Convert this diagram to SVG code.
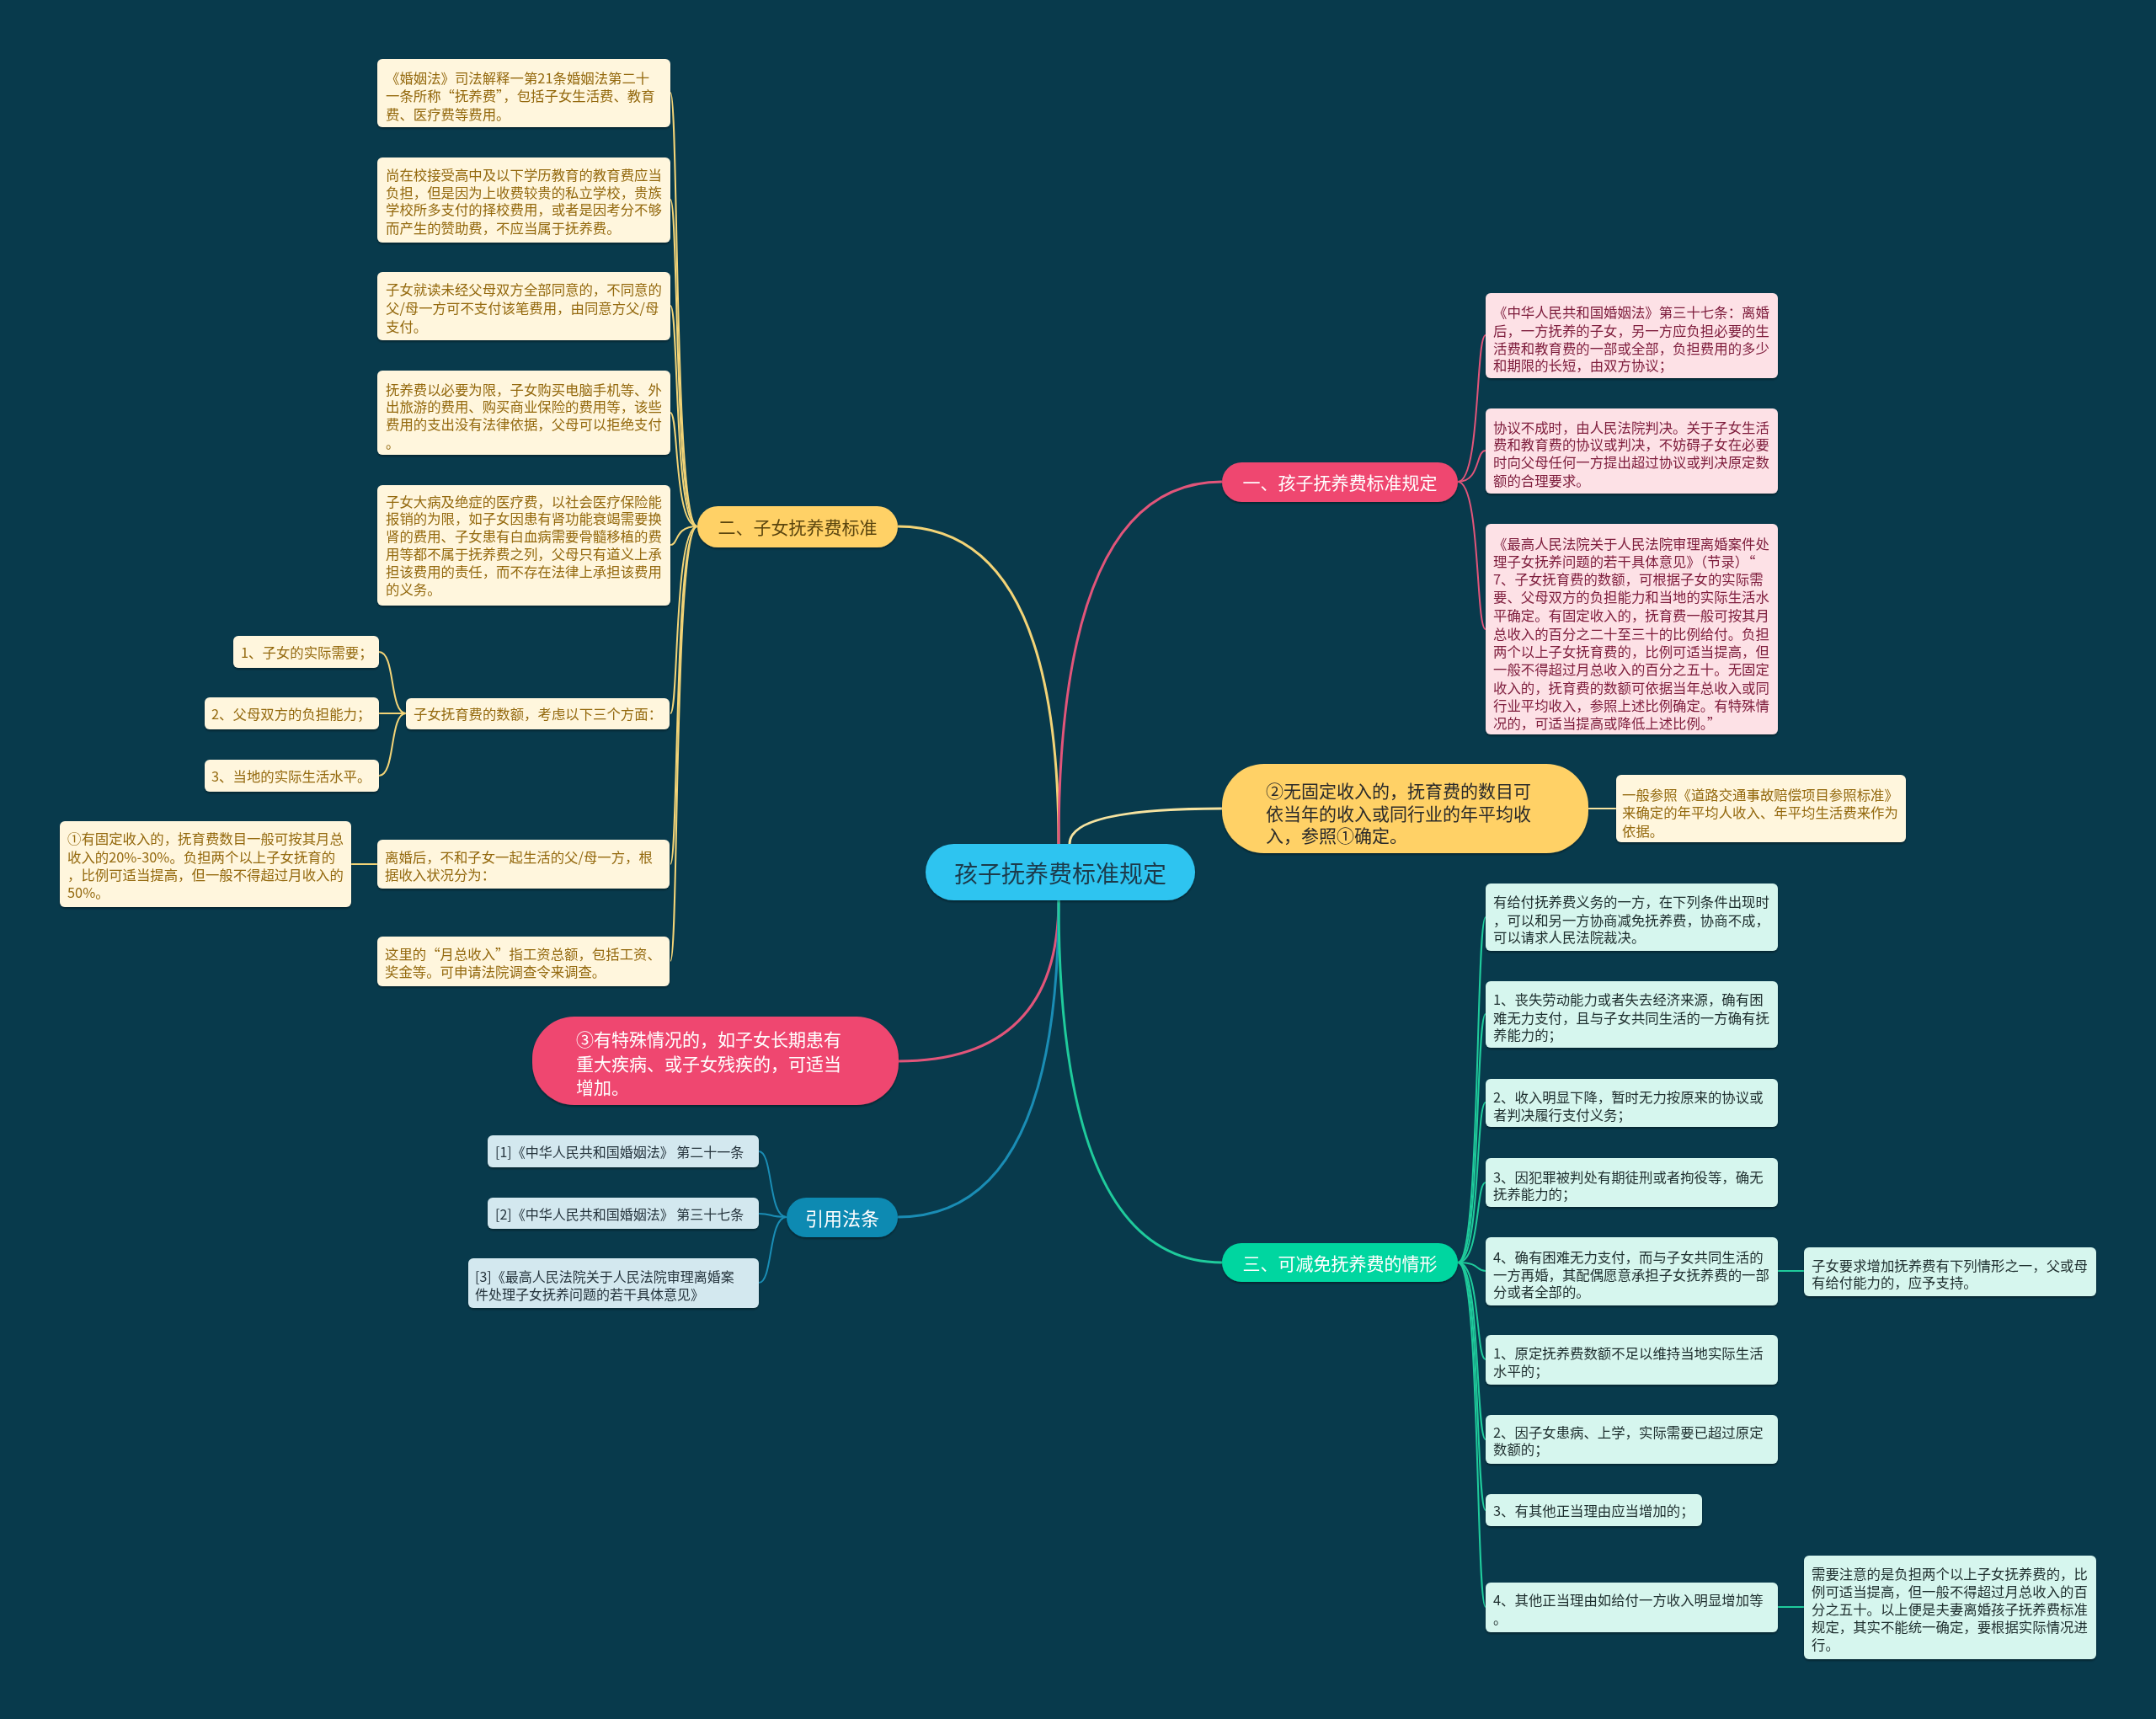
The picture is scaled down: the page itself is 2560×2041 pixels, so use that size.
<svg xmlns="http://www.w3.org/2000/svg" width="2560" height="2041" viewBox="0 0 2560 2041">
<defs>
<filter id="sh" x="-5%" y="-10%" width="110%" height="130%"><feDropShadow dx="0" dy="2" stdDeviation="1.2" flood-color="#000" flood-opacity="0.35"/></filter>
<style>
text{font-family:"Noto Sans CJK SC","Noto Sans",sans-serif;dominant-baseline:central}
.y rect{fill:#FFF6DD}.y text{fill:#94690F;font-size:16.4px}
.p rect{fill:#FDE1E6}.p text{fill:#7D1B3B;font-size:16.4px}
.g rect{fill:#D6F6EE}.g text{fill:#1F2D2D;font-size:16.4px}
.b rect{fill:#D3E8EF}.b text{fill:#25343D;font-size:16px}
.big text{font-size:21px}
.cy{fill:none;stroke:#F3D477;stroke-width:2}
.cp{fill:none;stroke:#E2557A;stroke-width:2}
.cg{fill:none;stroke:#1FCB9C;stroke-width:2}
.cb{fill:none;stroke:#1A8DB5;stroke-width:2}
.m{stroke-width:3}
</style>
</defs>
<rect width="2560" height="2041" fill="#083A4C"/>

<g id="connectors">
<path class="cy m" d="M1257,1002 Q1257,625 1066,625"/>
<path class="cp m" d="M1257,1002 Q1257,572 1451,572"/>
<path class="cy m" style="stroke:#F6E3A0" d="M1270,1002 Q1270,960 1451,960"/>
<path class="cp m" d="M1257,1069 Q1257,1260 1066,1260"/>
<path class="cb m" d="M1257,1069 Q1257,1445 1066,1445"/>
<path class="cg m" d="M1257,1069 Q1257,1499 1451,1499"/>

<path class="cy" d="M828,625 C800,625 806,110 796,110"/>
<path class="cy" d="M828,625 C800,625 806,237 796,237"/>
<path class="cy" d="M828,625 C800,625 806,363 796,363"/>
<path class="cy" d="M828,625 C800,625 806,490 796,490"/>
<path class="cy" d="M828,625 C800,625 806,647 796,647"/>
<path class="cy" d="M828,625 C800,625 806,847 796,847"/>
<path class="cy" d="M828,625 C800,625 806,1026 796,1026"/>
<path class="cy" d="M828,625 C800,625 806,1141 796,1141"/>
<path class="cy" d="M482,847 C462,847 470,774 450,774"/>
<path class="cy" d="M482,847 L450,847"/>
<path class="cy" d="M482,847 C462,847 470,921 450,921"/>
<path class="cy" d="M448,1026 L417,1026"/>
<path class="cy" style="stroke:#F6E3A0" d="M1886,960 L1919,960"/>

<path class="cp" d="M1731,572 C1758,572 1752,398 1764,398"/>
<path class="cp" d="M1731,572 C1758,572 1752,535 1764,535"/>
<path class="cp" d="M1731,572 C1758,572 1752,747 1764,747"/>

<path class="cb" d="M934,1445 C912,1445 918,1367 901,1367"/>
<path class="cb" d="M934,1445 C912,1445 918,1441 901,1441"/>
<path class="cb" d="M934,1445 C912,1445 918,1523 901,1523"/>

<path class="cg" d="M1731,1499 C1758,1499 1752,1089 1764,1089"/>
<path class="cg" d="M1731,1499 C1758,1499 1752,1204 1764,1204"/>
<path class="cg" d="M1731,1499 C1758,1499 1752,1309 1764,1309"/>
<path class="cg" d="M1731,1499 C1758,1499 1752,1404 1764,1404"/>
<path class="cg" d="M1731,1499 C1758,1499 1752,1509 1764,1509"/>
<path class="cg" d="M1731,1499 C1758,1499 1752,1614 1764,1614"/>
<path class="cg" d="M1731,1499 C1758,1499 1752,1709 1764,1709"/>
<path class="cg" d="M1731,1499 C1758,1499 1752,1793 1764,1793"/>
<path class="cg" d="M1731,1499 C1758,1499 1752,1908 1764,1908"/>
<path class="cg" d="M2111,1509 L2142,1509"/>
<path class="cg" d="M2111,1908 L2142,1908"/>
</g>

<g id="center" filter="url(#sh)">
<rect x="1099" y="1002" width="320" height="67" rx="33.5" fill="#2EC4F0"/>
<text x="1259" y="1036" text-anchor="middle" style="font-size:28px;fill:#1D3A4C">孩子抚养费标准规定</text>
</g>

<g id="b2" filter="url(#sh)">
<rect x="828" y="601" width="238" height="49" rx="24.5" fill="#FFD166"/>
<text x="947" y="625" text-anchor="middle" style="font-size:21px;fill:#5A4410">二、子女抚养费标准</text>
</g>
<g id="b1" filter="url(#sh)">
<rect x="1451" y="549" width="280" height="47" rx="23.5" fill="#EF476F"/>
<text x="1591" y="572" text-anchor="middle" style="font-size:21px;fill:#FFFFFF">一、孩子抚养费标准规定</text>
</g>
<g id="b3" filter="url(#sh)">
<rect x="1451" y="1476" width="280" height="46" rx="23" fill="#06D6A0"/>
<text x="1591" y="1499" text-anchor="middle" style="font-size:21px;fill:#FFFFFF">三、可减免抚养费的情形</text>
</g>
<g id="bcite" filter="url(#sh)">
<rect x="934" y="1422" width="132" height="47" rx="23.5" fill="#118AB2"/>
<text x="1000" y="1445" text-anchor="middle" style="font-size:22px;fill:#FFFFFF">引用法条</text>
</g>

<g id="n2" filter="url(#sh)">
<rect x="1451" y="907" width="435" height="106" rx="50" fill="#FFD166"/>
<text x="1503" style="font-size:21px;fill:#2A2A2A"><tspan x="1503" y="938">②无固定收入的，抚育费的数目可</tspan><tspan x="1503" y="965">依当年的收入或同行业的年平均收</tspan><tspan x="1503" y="991">入，参照①确定。</tspan></text>
</g>
<g id="n3" filter="url(#sh)">
<rect x="632" y="1207" width="435" height="105" rx="50" fill="#EF476F"/>
<text style="font-size:21px;fill:#FFFFFF"><tspan x="684" y="1233">③有特殊情况的，如子女长期患有</tspan><tspan x="684" y="1262">重大疾病、或子女残疾的，可适当</tspan><tspan x="684" y="1290">增加。</tspan></text>
</g>

<g id="y1" class="y" filter="url(#sh)"><rect x="448" y="70" width="348" height="81" rx="6"/>
<text><tspan x="458" y="92">《婚姻法》司法解释一第21条婚姻法第二十</tspan><tspan x="458" y="113">一条所称“抚养费”，包括子女生活费、教育</tspan><tspan x="458" y="135">费、医疗费等费用。</tspan></text></g>
<g id="y2" class="y" filter="url(#sh)"><rect x="448" y="187" width="348" height="101" rx="6"/>
<text><tspan x="458" y="207">尚在校接受高中及以下学历教育的教育费应当</tspan><tspan x="458" y="228">负担，但是因为上收费较贵的私立学校，贵族</tspan><tspan x="458" y="248">学校所多支付的择校费用，或者是因考分不够</tspan><tspan x="458" y="270">而产生的赞助费，不应当属于抚养费。</tspan></text></g>
<g id="y3" class="y" filter="url(#sh)"><rect x="448" y="323" width="348" height="81" rx="6"/>
<text><tspan x="458" y="343">子女就读未经父母双方全部同意的，不同意的</tspan><tspan x="458" y="365">父/母一方可不支付该笔费用，由同意方父/母</tspan><tspan x="458" y="387">支付。</tspan></text></g>
<g id="y4" class="y" filter="url(#sh)"><rect x="448" y="440" width="348" height="100" rx="6"/>
<text><tspan x="458" y="462">抚养费以必要为限，子女购买电脑手机等、外</tspan><tspan x="458" y="482">出旅游的费用、购买商业保险的费用等，该些</tspan><tspan x="458" y="503">费用的支出没有法律依据，父母可以拒绝支付</tspan><tspan x="458" y="525">。</tspan></text></g>
<g id="y5" class="y" filter="url(#sh)"><rect x="448" y="576" width="348" height="143" rx="6"/>
<text><tspan x="458" y="595">子女大病及绝症的医疗费，以社会医疗保险能</tspan><tspan x="458" y="615">报销的为限，如子女因患有肾功能衰竭需要换</tspan><tspan x="458" y="636">肾的费用、子女患有白血病需要骨髓移植的费</tspan><tspan x="458" y="657">用等都不属于抚养费之列，父母只有道义上承</tspan><tspan x="458" y="678">担该费用的责任，而不存在法律上承担该费用</tspan><tspan x="458" y="699">的义务。</tspan></text></g>
<g id="y6" class="y" filter="url(#sh)"><rect x="482" y="829" width="313" height="37" rx="6"/>
<text x="491" y="847">子女抚育费的数额，考虑以下三个方面：</text></g>
<g id="y6a" class="y" filter="url(#sh)"><rect x="277" y="755" width="173" height="38" rx="6"/>
<text x="286" y="774">1、子女的实际需要；</text></g>
<g id="y6b" class="y" filter="url(#sh)"><rect x="243" y="828" width="207" height="38" rx="6"/>
<text x="251" y="847">2、父母双方的负担能力；</text></g>
<g id="y6c" class="y" filter="url(#sh)"><rect x="243" y="902" width="207" height="38" rx="6"/>
<text x="251" y="921">3、当地的实际生活水平。</text></g>
<g id="y7" class="y" filter="url(#sh)"><rect x="448" y="997" width="347" height="58" rx="6"/>
<text><tspan x="457" y="1017">离婚后，不和子女一起生活的父/母一方，根</tspan><tspan x="457" y="1038">据收入状况分为：</tspan></text></g>
<g id="y7a" class="y" filter="url(#sh)"><rect x="71" y="975" width="346" height="102" rx="6"/>
<text><tspan x="80" y="995">①有固定收入的，抚育费数目一般可按其月总</tspan><tspan x="80" y="1017">收入的20%-30%。负担两个以上子女抚育的</tspan><tspan x="80" y="1038">，比例可适当提高，但一般不得超过月收入的</tspan><tspan x="80" y="1059">50%。</tspan></text></g>
<g id="y8" class="y" filter="url(#sh)"><rect x="448" y="1112" width="347" height="59" rx="6"/>
<text><tspan x="457" y="1132">这里的“月总收入”指工资总额，包括工资、</tspan><tspan x="457" y="1153">奖金等。可申请法院调查令来调查。</tspan></text></g>
<g id="n2a" class="y" filter="url(#sh)"><rect x="1919" y="920" width="344" height="80" rx="6"/>
<text><tspan x="1926" y="943">一般参照《道路交通事故赔偿项目参照标准》</tspan><tspan x="1926" y="964">来确定的年平均人收入、年平均生活费来作为</tspan><tspan x="1926" y="986">依据。</tspan></text></g>

<g id="p1" class="p" filter="url(#sh)"><rect x="1764" y="348" width="347" height="101" rx="6"/>
<text><tspan x="1773" y="370">《中华人民共和国婚姻法》第三十七条：离婚</tspan><tspan x="1773" y="392">后，一方抚养的子女，另一方应负担必要的生</tspan><tspan x="1773" y="413">活费和教育费的一部或全部，负担费用的多少</tspan><tspan x="1773" y="433">和期限的长短，由双方协议；</tspan></text></g>
<g id="p2" class="p" filter="url(#sh)"><rect x="1764" y="485" width="347" height="101" rx="6"/>
<text><tspan x="1773" y="507">协议不成时，由人民法院判决。关于子女生活</tspan><tspan x="1773" y="527">费和教育费的协议或判决，不妨碍子女在必要</tspan><tspan x="1773" y="548">时向父母任何一方提出超过协议或判决原定数</tspan><tspan x="1773" y="570">额的合理要求。</tspan></text></g>
<g id="p3" class="p" filter="url(#sh)"><rect x="1764" y="622" width="347" height="250" rx="6"/>
<text><tspan x="1773" y="645">《最高人民法院关于人民法院审理离婚案件处</tspan><tspan x="1773" y="666">理子女抚养问题的若干具体意见》（节录）“</tspan><tspan x="1773" y="687">7、子女抚育费的数额，可根据子女的实际需</tspan><tspan x="1773" y="708">要、父母双方的负担能力和当地的实际生活水</tspan><tspan x="1773" y="730">平确定。有固定收入的，抚育费一般可按其月</tspan><tspan x="1773" y="752">总收入的百分之二十至三十的比例给付。负担</tspan><tspan x="1773" y="773">两个以上子女抚育费的，比例可适当提高，但</tspan><tspan x="1773" y="794">一般不得超过月总收入的百分之五十。无固定</tspan><tspan x="1773" y="816">收入的，抚育费的数额可依据当年总收入或同</tspan><tspan x="1773" y="837">行业平均收入，参照上述比例确定。有特殊情</tspan><tspan x="1773" y="858">况的，可适当提高或降低上述比例。”</tspan></text></g>

<g id="c1" class="b" filter="url(#sh)"><rect x="579" y="1348" width="322" height="38" rx="6"/>
<text x="588" y="1367">[1]《中华人民共和国婚姻法》 第二十一条</text></g>
<g id="c2" class="b" filter="url(#sh)"><rect x="579" y="1422" width="322" height="37" rx="6"/>
<text x="588" y="1441">[2]《中华人民共和国婚姻法》 第三十七条</text></g>
<g id="c3" class="b" filter="url(#sh)"><rect x="556" y="1494" width="345" height="59" rx="6"/>
<text><tspan x="564" y="1515">[3]《最高人民法院关于人民法院审理离婚案</tspan><tspan x="564" y="1536">件处理子女抚养问题的若干具体意见》</tspan></text></g>

<g id="g1" class="g" filter="url(#sh)"><rect x="1764" y="1049" width="347" height="80" rx="6"/>
<text><tspan x="1773" y="1070">有给付抚养费义务的一方，在下列条件出现时</tspan><tspan x="1773" y="1092">，可以和另一方协商减免抚养费，协商不成，</tspan><tspan x="1773" y="1112">可以请求人民法院裁决。</tspan></text></g>
<g id="g2" class="g" filter="url(#sh)"><rect x="1764" y="1165" width="347" height="79" rx="6"/>
<text><tspan x="1773" y="1186">1、丧失劳动能力或者失去经济来源，确有困</tspan><tspan x="1773" y="1208">难无力支付，且与子女共同生活的一方确有抚</tspan><tspan x="1773" y="1228">养能力的；</tspan></text></g>
<g id="g3" class="g" filter="url(#sh)"><rect x="1764" y="1281" width="347" height="57" rx="6"/>
<text><tspan x="1773" y="1302">2、收入明显下降，暂时无力按原来的协议或</tspan><tspan x="1773" y="1323">者判决履行支付义务；</tspan></text></g>
<g id="g4" class="g" filter="url(#sh)"><rect x="1764" y="1375" width="347" height="58" rx="6"/>
<text><tspan x="1773" y="1397">3、因犯罪被判处有期徒刑或者拘役等，确无</tspan><tspan x="1773" y="1417">抚养能力的；</tspan></text></g>
<g id="g5" class="g" filter="url(#sh)"><rect x="1764" y="1469" width="347" height="81" rx="6"/>
<text><tspan x="1773" y="1492">4、确有困难无力支付，而与子女共同生活的</tspan><tspan x="1773" y="1513">一方再婚，其配偶愿意承担子女抚养费的一部</tspan><tspan x="1773" y="1533">分或者全部的。</tspan></text></g>
<g id="g5a" class="g" filter="url(#sh)"><rect x="2142" y="1481" width="347" height="58" rx="6"/>
<text><tspan x="2151" y="1502">子女要求增加抚养费有下列情形之一，父或母</tspan><tspan x="2151" y="1522">有给付能力的，应予支持。</tspan></text></g>
<g id="g6" class="g" filter="url(#sh)"><rect x="1764" y="1585" width="347" height="59" rx="6"/>
<text><tspan x="1773" y="1606">1、原定抚养费数额不足以维持当地实际生活</tspan><tspan x="1773" y="1627">水平的；</tspan></text></g>
<g id="g7" class="g" filter="url(#sh)"><rect x="1764" y="1680" width="347" height="58" rx="6"/>
<text><tspan x="1773" y="1700">2、因子女患病、上学，实际需要已超过原定</tspan><tspan x="1773" y="1720">数额的；</tspan></text></g>
<g id="g8" class="g" filter="url(#sh)"><rect x="1764" y="1774" width="257" height="38" rx="6"/>
<text x="1773" y="1793">3、有其他正当理由应当增加的；</text></g>
<g id="g9" class="g" filter="url(#sh)"><rect x="1764" y="1879" width="347" height="59" rx="6"/>
<text><tspan x="1773" y="1899">4、其他正当理由如给付一方收入明显增加等</tspan><tspan x="1773" y="1921">。</tspan></text></g>
<g id="g9a" class="g" filter="url(#sh)"><rect x="2142" y="1847" width="347" height="123" rx="6"/>
<text><tspan x="2151" y="1868">需要注意的是负担两个以上子女抚养费的，比</tspan><tspan x="2151" y="1889">例可适当提高，但一般不得超过月总收入的百</tspan><tspan x="2151" y="1910">分之五十。以上便是夫妻离婚孩子抚养费标准</tspan><tspan x="2151" y="1931">规定，其实不能统一确定，要根据实际情况进</tspan><tspan x="2151" y="1952">行。</tspan></text></g>
</svg>
